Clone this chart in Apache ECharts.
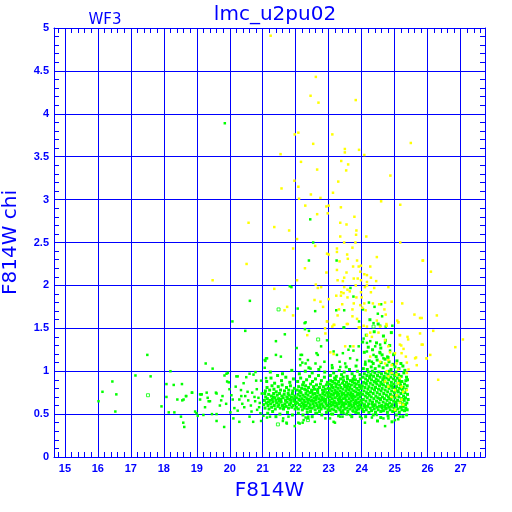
<!DOCTYPE html>
<html><head><meta charset="utf-8">
<script src="https://cdn.jsdelivr.net/npm/echarts@6/dist/echarts.min.js"></script>
<style>html,body{margin:0;padding:0;background:#fff}#c{width:512px;height:512px}</style>
</head><body><div id="c"></div>
<script>
const chartTitle = 'lmc_u2pu02';
const chipLabel = 'WF3';
const xName = 'F814W';
const yName = 'F814W chi';
const xRange = [14.67, 27.74];
const yRange = [0, 5];

const greenSparse = [
[16.02,0.65],[16.14,0.76],[16.44,0.88],[16.56,0.73],[16.53,0.53],[17.5,1.19],[17.14,0.95],[17.6,0.94],[17.93,0.59],
[18.08,0.85],[18.08,0.7],[18.15,0.52],[18.2,1.0],[18.3,0.84],[18.41,0.67],[18.32,0.52],[18.52,0.47],[18.59,0.4],
[18.62,0.35],[18.55,0.85],[18.6,0.67],[18.67,0.71],[18.86,0.75],[18.99,0.51],[19.15,0.73],[19.03,0.48],[19.2,0.49],
[19.25,0.58],[19.33,0.69],[19.4,0.65],[19.6,0.5],[19.6,0.42],[19.6,0.74],[19.85,3.89],[20.61,1.82],[20.08,1.58],
[20.47,1.47],[19.27,1.09],[19.48,1.03],[19.1,0.73],[19.3,0.75],[19.84,0.95],[19.9,0.97],[20.2,0.94],[20.5,0.93],
[20.6,0.97],[20.78,0.99],[21.06,1.13],[21.1,1.15],[21.06,1.04],[21.1,0.92],
[19.94,0.98],[19.97,0.87],[20.24,0.94],[20.72,0.96],[20.8,0.89],[20.95,0.89],[18.85,0.75],[18.68,0.71],[18.56,0.66],
[19.13,0.73],[19.36,0.65],[19.1,0.67],[19.58,0.75],[19.78,0.71],[19.74,0.66],[19.7,0.6],[19.89,0.62],[19.99,0.79],
[19.92,0.88],[20.09,0.67],[20.14,0.57],[20.34,0.78],[20.29,0.67],[20.47,0.71],[20.54,0.76],[20.44,0.58],[20.24,0.54],
[20.64,0.6],[20.77,0.65],[20.89,0.58],[20.87,0.69],[18.95,0.53],[19.46,0.5],[19.83,0.35],[20.11,0.45],[20.29,0.41],
[20.6,0.47],[20.95,0.42],[20.71,0.41],[20.05,0.72],[20.18,0.82],[20.38,0.62],[20.42,0.86],[20.56,0.66],[20.68,0.75],
[20.82,0.79],[20.91,0.63],[20.97,0.74],[20.02,0.52],[20.66,0.53],[20.83,0.55],[20.93,0.51],[20.35,0.71],[20.75,0.7]
];

const greenUpper = [
[22.44,2.77],[22.53,2.5],[22.4,2.29],[23.24,2.29],[21.87,1.98],[23.66,1.97],[23.75,1.87],[22.06,1.73],[22.59,1.7],
[23.23,1.71],[23.47,1.71],[23.92,1.58],[24.22,1.8],[24.39,1.75],[24.59,1.78],[24.49,1.67],[24.62,1.64],[24.36,1.56],
[24.56,1.53],[24.73,1.52],[24.93,1.53],[22.3,1.57],[23.47,1.51],[24.04,1.72],[21.82,1.99],[21.4,1.35],[22.28,1.49],
[21.67,1.43],[22.03,1.27],[22.27,1.56],[21.4,1.19],[21.55,1.17],[21.13,1.15],[21.08,1.12],[22.15,1.19],[22.13,1.14],
[22.2,1.1],[22.37,1.13],[22.4,1.47],[22.95,1.36],[22.77,1.29],[22.63,1.21],[22.67,1.19],[23.45,1.51],[23.94,1.51],
[24.06,1.38],[23.91,1.29],[23.65,1.29],[23.6,1.25],[23.75,1.24],[23.43,1.21],[23.25,1.19],[23.15,1.23],[23.33,1.11],
[24.16,1.33],[24.26,1.35],[24.16,1.23],[24.41,1.29],[24.56,1.31],[24.71,1.33],[24.86,1.24],[24.78,1.17],[24.96,1.19],
[24.56,1.21],[24.36,1.19],[24.66,1.15],[24.31,1.11],[24.11,1.11],[23.86,1.13],[23.65,1.15],[23.5,1.09],[23.35,1.05],
[23.1,1.07],[22.87,1.11],[22.75,1.05],[22.6,1.09],[22.45,1.03],[22.3,1.09],[22.19,1.19],[22.14,1.07]
];

const greenLower = [
[21.13,0.46],[21.61,0.42],[21.73,0.39],[21.97,0.36],[22.12,0.39],[22.24,0.43],[22.37,0.45],[21.78,0.47],[22.3,0.46],
[22.6,0.51],[22.9,0.45],[23.15,0.41],[23.35,0.47],[23.65,0.49],[23.75,0.53],[24.0,0.45],[24.1,0.4],[24.31,0.46],
[24.46,0.49],[24.66,0.45],[24.81,0.45],[25.01,0.43],[24.71,0.36],[25.16,0.47],[25.37,0.49],[23.45,0.51],[23.07,0.5],
[25.11,0.44],[23.95,0.47],[23.42,0.47],[23.19,0.4],[23.04,0.45],[22.58,0.41],[22.38,0.47],[22.21,0.4],[22.08,0.4],
[21.72,0.4],[21.62,0.45],[21.22,0.47],[21.02,0.48],[25.36,0.49]
];

const greenBand21 = [
[21.03,0.61],[21.07,0.57],[21.11,0.63],[21.16,0.6],[21.19,0.56],[21.24,0.62],[21.27,0.58],[21.31,0.64],[21.35,0.6],
[21.38,0.56],[21.42,0.63],[21.46,0.59],[21.49,0.61],[21.53,0.57],[21.56,0.64],[21.6,0.6],[21.63,0.56],[21.67,0.62],
[21.71,0.59],[21.74,0.64],[21.78,0.57],[21.81,0.61],[21.85,0.63],[21.88,0.58],[21.92,0.6],[21.95,0.65],[21.98,0.56],
[21.05,0.66],[21.09,0.7],[21.14,0.68],[21.18,0.73],[21.22,0.66],[21.26,0.71],[21.29,0.67],[21.33,0.74],[21.37,0.69],
[21.4,0.66],[21.44,0.72],[21.48,0.68],[21.51,0.74],[21.55,0.67],[21.58,0.71],[21.62,0.69],[21.65,0.73],[21.69,0.66],
[21.73,0.7],[21.76,0.68],[21.8,0.72],[21.83,0.67],[21.87,0.7],[21.9,0.74],[21.94,0.68],[21.97,0.71],[21.08,0.77],
[21.13,0.81],[21.21,0.78],[21.28,0.83],[21.34,0.79],[21.41,0.76],[21.47,0.82],[21.54,0.78],[21.59,0.84],[21.66,0.77],
[21.72,0.81],[21.79,0.78],[21.84,0.83],[21.91,0.77],[21.96,0.8],[21.12,0.88],[21.25,0.92],[21.36,0.86],[21.45,0.95],
[21.57,0.89],[21.7,0.93],[21.82,0.87],[21.93,0.91],[21.23,0.99],[21.6,0.97],[21.88,1.01],[21.15,0.51],[21.3,0.53],
[21.52,0.5],[21.75,0.52],[21.9,0.49],[21.4,0.47],[21.06,0.74],[21.17,0.64],[21.32,0.7],[21.5,0.65],[21.64,0.58],
[21.77,0.74],[21.86,0.66],[21.99,0.62]
];

const greenBand22 = [
[22.02,0.58],[22.05,0.63],[22.08,0.56],[22.11,0.61],[22.14,0.66],[22.17,0.59],[22.2,0.55],[22.23,0.62],[22.26,0.57],
[22.29,0.64],[22.32,0.6],[22.35,0.56],[22.38,0.63],[22.41,0.58],[22.44,0.61],[22.47,0.65],[22.5,0.57],[22.53,0.62],
[22.56,0.59],[22.59,0.55],[22.62,0.63],[22.65,0.6],[22.68,0.57],[22.71,0.64],[22.74,0.61],[22.77,0.56],[22.8,0.62],
[22.83,0.59],[22.86,0.65],[22.89,0.57],[22.92,0.62],[22.95,0.6],[22.98,0.55],[22.03,0.69],[22.07,0.73],[22.1,0.67],
[22.13,0.71],[22.16,0.75],[22.19,0.68],[22.22,0.72],[22.25,0.66],[22.28,0.7],[22.31,0.74],[22.34,0.68],[22.37,0.72],
[22.4,0.67],[22.43,0.75],[22.46,0.7],[22.49,0.66],[22.52,0.73],[22.55,0.69],[22.58,0.74],[22.61,0.67],[22.64,0.71],
[22.67,0.75],[22.7,0.68],[22.73,0.72],[22.76,0.66],[22.79,0.7],[22.82,0.74],[22.85,0.68],[22.88,0.72],[22.91,0.67],
[22.94,0.75],[22.97,0.7],[22.04,0.78],[22.09,0.82],[22.12,0.77],[22.18,0.8],[22.21,0.84],[22.27,0.79],[22.3,0.83],
[22.36,0.77],[22.39,0.81],[22.45,0.85],[22.48,0.78],[22.54,0.82],[22.57,0.79],[22.63,0.84],[22.66,0.77],[22.72,0.81],
[22.75,0.85],[22.81,0.78],[22.84,0.82],[22.9,0.79],[22.93,0.84],[22.99,0.8],[22.06,0.88],[22.15,0.92],[22.24,0.87],
[22.33,0.9],[22.42,0.94],[22.51,0.88],[22.6,0.91],[22.69,0.95],[22.78,0.89],[22.87,0.93],[22.96,0.87],[22.11,0.97],
[22.29,1.0],[22.5,0.98],[22.7,1.02],[22.88,0.99],[22.4,1.04],[22.08,0.51],[22.22,0.49],[22.35,0.52],[22.5,0.47],
[22.64,0.51],[22.79,0.49],[22.93,0.52],[22.45,0.53],[22.72,0.53],[22.01,0.64],[22.19,0.63],[22.37,0.66],[22.55,0.65],
[22.73,0.58],[22.91,0.64],[22.13,0.76],[22.31,0.78],[22.49,0.76],[22.67,0.79],[22.85,0.76],[22.26,0.6],[22.44,0.57],
[22.62,0.7],[22.8,0.67],[22.98,0.73]
];

const greenBand23 = [
[23.01,0.58],[23.04,0.54],[23.07,0.6],[23.1,0.56],[23.13,0.61],[23.16,0.55],[23.19,0.59],[23.22,0.53],[23.25,0.6],
[23.28,0.57],[23.31,0.62],[23.34,0.55],[23.37,0.58],[23.4,0.61],[23.43,0.54],[23.46,0.59],[23.49,0.56],[23.52,0.62],
[23.55,0.57],[23.58,0.53],[23.61,0.6],[23.64,0.56],[23.67,0.61],[23.7,0.58],[23.73,0.54],[23.76,0.6],[23.79,0.57],
[23.82,0.62],[23.85,0.55],[23.88,0.59],[23.91,0.56],[23.94,0.61],[23.97,0.58],[23.02,0.66],[23.05,0.7],[23.08,0.64],
[23.11,0.68],[23.14,0.72],[23.17,0.65],[23.2,0.69],[23.23,0.63],[23.26,0.71],[23.29,0.67],[23.32,0.64],[23.35,0.7],
[23.38,0.66],[23.41,0.72],[23.44,0.68],[23.47,0.63],[23.5,0.69],[23.53,0.66],[23.56,0.71],[23.59,0.64],[23.62,0.68],
[23.65,0.72],[23.68,0.65],[23.71,0.69],[23.74,0.67],[23.77,0.63],[23.8,0.7],[23.83,0.66],[23.86,0.72],[23.89,0.68],
[23.92,0.64],[23.95,0.7],[23.98,0.66],[23.01,0.75],[23.04,0.79],[23.07,0.73],[23.1,0.77],[23.13,0.81],[23.16,0.74],
[23.19,0.78],[23.22,0.82],[23.25,0.76],[23.28,0.8],[23.31,0.73],[23.34,0.77],[23.37,0.81],[23.4,0.75],[23.43,0.79],
[23.46,0.74],[23.49,0.82],[23.52,0.77],[23.55,0.8],[23.58,0.74],[23.61,0.78],[23.64,0.81],[23.67,0.75],[23.7,0.79],
[23.73,0.73],[23.76,0.77],[23.79,0.82],[23.82,0.76],[23.85,0.8],[23.88,0.74],[23.91,0.78],[23.94,0.82],[23.97,0.75],
[23.02,0.85],[23.06,0.89],[23.09,0.84],[23.12,0.88],[23.18,0.86],[23.21,0.9],[23.24,0.85],[23.3,0.88],[23.33,0.84],
[23.36,0.91],[23.42,0.86],[23.45,0.89],[23.48,0.84],[23.54,0.87],[23.57,0.91],[23.6,0.85],[23.66,0.89],[23.69,0.84],
[23.72,0.88],[23.78,0.86],[23.81,0.9],[23.84,0.85],[23.9,0.88],[23.93,0.84],[23.96,0.91],[23.05,0.95],[23.15,0.98],
[23.23,0.94],[23.32,1.01],[23.39,0.96],[23.47,0.99],[23.56,0.94],[23.63,1.02],[23.71,0.97],[23.78,0.94],[23.87,1.0],
[23.95,0.96],[23.11,1.04],[23.53,1.05],[23.83,1.06],[23.12,0.5],[23.3,0.48],[23.55,0.5],[23.7,0.47],[23.9,0.51],
[23.38,0.52],[23.82,0.52],[23.03,0.62],[23.15,0.63],[23.27,0.74],[23.39,0.64],[23.51,0.72],[23.63,0.63],[23.75,0.71],
[23.87,0.63],[23.99,0.8],[23.09,0.82],[23.21,0.75],[23.33,0.68],[23.45,0.61],[23.57,0.83],[23.69,0.71],[23.81,0.64],
[23.93,0.73],[23.18,0.92],[23.44,0.93],[23.74,0.91]
];

const greenBand24 = [
[24.02,0.56],[24.06,0.53],[24.1,0.58],[24.14,0.55],[24.18,0.59],[24.22,0.52],[24.26,0.57],[24.3,0.54],[24.34,0.59],
[24.38,0.56],[24.42,0.52],[24.46,0.58],[24.5,0.55],[24.54,0.59],[24.58,0.53],[24.62,0.57],[24.66,0.54],[24.7,0.59],
[24.74,0.56],[24.78,0.52],[24.82,0.58],[24.86,0.55],[24.9,0.59],[24.94,0.53],[24.98,0.57],[25.02,0.54],[25.06,0.59],
[25.1,0.56],[25.14,0.52],[25.18,0.58],[25.22,0.55],[25.26,0.59],[25.3,0.54],[25.34,0.57],[25.38,0.55],[24.01,0.63],
[24.05,0.67],[24.09,0.61],[24.13,0.65],[24.17,0.69],[24.21,0.62],[24.25,0.66],[24.29,0.7],[24.33,0.64],[24.37,0.68],
[24.41,0.61],[24.45,0.65],[24.49,0.69],[24.53,0.63],[24.57,0.67],[24.61,0.6],[24.65,0.64],[24.69,0.68],[24.73,0.62],
[24.77,0.66],[24.81,0.7],[24.85,0.63],[24.89,0.67],[24.93,0.61],[24.97,0.65],[25.01,0.69],[25.05,0.62],[25.09,0.66],
[25.13,0.7],[25.17,0.64],[25.21,0.68],[25.25,0.62],[25.29,0.66],[25.33,0.69],[25.37,0.63],[25.41,0.67],[24.03,0.73],
[24.07,0.77],[24.11,0.71],[24.15,0.75],[24.19,0.79],[24.23,0.72],[24.27,0.76],[24.31,0.8],[24.35,0.74],[24.39,0.78],
[24.43,0.71],[24.47,0.75],[24.51,0.79],[24.55,0.73],[24.59,0.77],[24.63,0.7],[24.67,0.74],[24.71,0.78],[24.75,0.72],
[24.79,0.76],[24.83,0.8],[24.87,0.73],[24.91,0.77],[24.95,0.71],[24.99,0.75],[25.03,0.79],[25.07,0.72],[25.11,0.76],
[25.15,0.8],[25.19,0.74],[25.23,0.78],[25.27,0.71],[25.31,0.75],[25.35,0.79],[25.39,0.73],[24.02,0.83],[24.06,0.87],
[24.1,0.81],[24.14,0.85],[24.18,0.89],[24.22,0.82],[24.26,0.86],[24.3,0.9],[24.34,0.84],[24.38,0.88],[24.42,0.81],
[24.46,0.85],[24.5,0.89],[24.54,0.83],[24.58,0.87],[24.62,0.8],[24.66,0.84],[24.7,0.88],[24.74,0.82],[24.78,0.86],
[24.82,0.9],[24.86,0.83],[24.9,0.87],[24.94,0.81],[24.98,0.85],[25.02,0.89],[25.06,0.82],[25.1,0.86],[25.14,0.9],
[25.18,0.84],[25.22,0.88],[25.26,0.81],[25.3,0.85],[25.34,0.89],[25.38,0.83],[24.04,0.93],[24.08,0.97],[24.12,0.91],
[24.16,0.95],[24.2,0.99],[24.24,0.92],[24.28,0.96],[24.32,1.0],[24.36,0.94],[24.4,0.98],[24.44,0.91],[24.48,0.95],
[24.52,0.99],[24.56,0.93],[24.6,0.97],[24.64,0.9],[24.68,0.94],[24.72,0.98],[24.76,0.92],[24.8,0.96],[24.84,1.0],
[24.88,0.93],[24.92,0.97],[24.96,0.91],[25.0,0.95],[25.04,0.99],[25.08,0.92],[25.12,0.96],[25.2,0.94],[25.28,0.98],
[25.36,0.93],[24.05,1.03],[24.11,1.08],[24.17,1.02],[24.23,1.12],[24.29,1.05],[24.35,1.09],[24.41,1.03],[24.47,1.13],
[24.53,1.06],[24.59,1.1],[24.65,1.04],[24.71,1.14],[24.77,1.07],[24.83,1.11],[24.89,1.02],[24.95,1.08],[25.01,1.05],
[25.07,1.12],[25.13,1.03],[25.19,1.09],[25.25,1.06],[25.31,1.01],[24.44,1.17],[24.62,1.19],[24.8,1.16],[24.98,1.2],
[24.08,1.22],[24.2,1.28],[24.33,1.25],[24.45,1.33],[24.58,1.27],[24.72,1.36],[24.85,1.3],[24.14,1.42],[24.38,1.46],
[24.66,1.41],[24.5,1.55],[24.25,1.6],[24.9,1.45],[24.03,1.34],[24.55,1.22],[24.12,0.47],[24.35,0.49],[24.58,0.46],
[24.8,0.48],[25.05,0.49],[25.25,0.47],[24.48,0.42],[24.92,0.41],[24.07,0.6],[24.19,0.74],[24.31,0.62],[24.43,0.87],
[24.55,0.68],[24.67,0.92],[24.79,0.61],[24.91,0.83],[25.03,0.64],[25.15,0.87],[25.27,0.67],[25.39,0.9],[24.13,0.86],
[24.37,0.6],[24.61,0.85],[24.85,0.68],[25.09,0.77],[25.33,0.61],[24.25,0.94],[24.73,0.57]
];

const greenHollow = [[17.52,0.72],[21.48,1.72],[22.68,1.37],[24.36,1.52],[22.37,0.43],[21.46,0.38]];

const yellowUpper = [
[21.24,4.91],[22.61,4.43],[22.45,4.21],[22.69,4.13],[23.82,4.16],[21.97,3.76],[22.08,3.78],[23.11,3.76],[22.53,3.65],
[21.54,3.53],[23.49,3.59],[23.49,3.55],[23.92,3.58],[24.08,3.52],[25.49,3.66],[22.16,3.44],[23.38,3.45],[23.59,3.41],
[22.65,3.35],[23.53,3.34],[24.87,3.28],[21.96,3.22],[23.29,3.21],[22.08,3.15],[21.57,3.13],[22.46,3.06],[23.13,3.08],
[22.75,3.02],[22.1,3.01],[22.29,2.93],[22.93,2.92],[23.0,2.93],[23.37,2.91],[24.59,2.98],[25.17,2.94],[22.65,2.83],
[22.97,2.84],[21.35,2.68],[21.8,2.64],[23.35,2.73],[23.54,2.71],[23.78,2.8],[23.84,2.64],[23.83,2.59],[23.35,2.57],
[24.14,2.57],[22.04,2.54],[22.59,2.46],[21.92,2.43],[23.47,2.5],[23.81,2.5],[25.17,2.5],[23.25,2.43],[23.72,2.44],
[23.25,2.39],[23.0,2.36],[23.56,2.36],[23.33,2.28],[23.58,2.31],[23.86,2.29],[24.46,2.33],[25.86,2.29],[23.74,2.22],
[23.91,2.22],[23.98,2.23],[24.26,2.22],[22.28,2.2],[22.93,2.15],[23.25,2.18],[23.54,2.15],[23.96,2.16],[24.08,2.13],
[24.16,2.12],[26.1,2.16],[22.04,2.06],[23.27,2.06],[23.43,2.05],[23.47,2.09],[23.76,2.08],[23.88,2.08],[23.98,2.06],
[24.16,2.04],[24.44,2.05],[24.28,2.09],[21.35,1.96],[22.61,2.01],[22.67,1.97],[22.77,1.98],[23.47,1.98],[23.57,1.95],
[23.82,2.0],[24.1,1.98],[24.16,2.0],[24.38,1.97],[24.81,1.98],[23.38,1.92],[23.45,1.91],[23.64,1.93],[23.98,1.92],
[24.28,1.92],[23.23,1.88],[23.37,1.88],[23.57,1.86],[23.84,1.86],[24.0,1.86],[22.57,1.83],[22.75,1.81],[23.0,1.84],
[23.41,1.78],[23.76,1.79],[23.96,1.77],[24.08,1.79],[24.34,1.79],[24.53,1.78],[25.23,1.79],[21.74,1.75],[21.66,1.71],
[22.83,1.75],[23.31,1.72],[23.72,1.72],[24.02,1.74],[24.12,1.71],[24.69,1.72],[21.92,1.65],[23.27,1.65],[23.72,1.64],
[24.73,1.66],[25.6,1.66],[25.82,1.62],[26.28,1.65],[22.95,1.58],[23.17,1.54],[23.58,1.55],[23.86,1.61],[23.94,1.51],
[24.16,1.52],[24.46,1.59],[24.75,1.55],[25.11,1.57],[22.89,1.5],[23.11,1.52],[20.57,2.73],[20.51,2.25],[19.48,2.06],
[25.85,2.29],[26.17,1.47],[26.32,0.9],[25.85,1.31],[25.65,1.16],[25.97,1.15],[25.77,1.62],[25.41,1.37],[25.16,1.42],
[25.2,1.3],[25.34,1.17],[24.91,1.81],[25.08,1.59],[24.71,1.8],[22.95,2.37],[27.07,1.37],[26.84,1.28],[26.08,1.19]
];

const yellowCore = [
[22.95,1.58],[23.15,1.54],[23.55,1.55],[23.91,1.51],[24.06,1.53],[24.26,1.45],[24.56,1.52],[24.76,1.53],[25.11,1.57],
[22.35,1.42],[22.9,1.44],[23.05,1.22],[23.15,1.2],[23.5,1.29],[23.75,1.29],[24.16,1.42],[24.31,1.4],[24.51,1.45],
[24.71,1.36],[24.81,1.29],[24.86,1.22],[25.01,1.21],[25.16,1.42],[25.39,1.4],[25.16,1.31],[25.27,1.26],[25.21,1.21],
[25.37,1.1],[25.62,1.15],[25.67,1.07],[25.82,1.31],[25.97,1.15],[25.77,1.44],[25.42,1.02],[24.26,1.17],[24.56,1.11],
[24.71,1.09],[24.81,1.13],[24.91,1.07],[25.06,1.09],[25.11,1.02],[25.06,0.96],[25.16,0.92],[25.11,0.86],[25.21,0.82],
[25.01,0.78],[25.26,0.76],[25.06,0.72],[25.21,0.67],[25.37,0.78],[24.91,0.98],[24.81,0.94],[24.76,1.0],[24.71,0.88],
[24.81,0.82],[24.91,0.7],[25.16,0.63],[25.26,0.61],[25.01,0.55],[25.37,0.98]
];

const BLUE = '#0000ff';
const GREEN = '#00ff00';
const YELLOW = '#ffff00';

function xAxisDef(pos, main) {
  return {
    type: 'value', position: pos, min: xRange[0], max: xRange[1], splitNumber: 13,
    name: main ? xName : '', nameLocation: 'middle', nameGap: 24,
    nameTextStyle: {color: BLUE, fontSize: 20, fontFamily: 'DejaVu Sans'},
    axisLine: {show: true, onZero: false, lineStyle: {color: BLUE, width: 1}},
    axisTick: {show: true, inside: true, length: 6, lineStyle: {color: BLUE, width: 1}},
    minorTick: {show: true, splitNumber: 5, length: 5, lineStyle: {color: BLUE, width: 1}},
    splitLine: {show: main, lineStyle: {color: BLUE, width: 1}},
    axisLabel: {show: main, margin: 6, color: BLUE, fontSize: 11, fontWeight: 'bold', fontFamily: 'Liberation Sans',
      formatter: v => (Math.abs(v - Math.round(v)) < 1e-6 ? String(Math.round(v)) : '')}
  };
}
function yAxisDef(pos, main) {
  return {
    type: 'value', position: pos, min: yRange[0], max: yRange[1], interval: 0.5,
    name: main ? yName : '', nameLocation: 'middle', nameGap: 33,
    nameTextStyle: {color: BLUE, fontSize: 20, fontFamily: 'DejaVu Sans'},
    axisLine: {show: true, onZero: false, lineStyle: {color: BLUE, width: 1}},
    axisTick: {show: true, inside: true, length: 6, lineStyle: {color: BLUE, width: 1}},
    minorTick: {show: true, splitNumber: 5, length: 5, lineStyle: {color: BLUE, width: 1}},
    splitLine: {show: main, lineStyle: {color: BLUE, width: 1}},
    axisLabel: {show: main, margin: 5, color: BLUE, fontSize: 11, fontWeight: 'bold', fontFamily: 'Liberation Sans'}
  };
}
function sc(data, color, size) {
  return {type: 'scatter', data: data, symbol: 'rect', symbolSize: size, silent: true,
    itemStyle: {color: color, opacity: 1}, emphasis: {disabled: true}};
}

const chart = echarts.init(document.getElementById('c'));
chart.setOption({
  animation: false,
  backgroundColor: '#ffffff',
  title: [
    {text: chartTitle, left: 270, top: 0, textAlign: 'center',
      textStyle: {color: BLUE, fontSize: 20, fontWeight: 'normal', fontFamily: 'DejaVu Sans'}},
    {text: chipLabel, left: 100, top: 8, textAlign: 'center',
      textStyle: {color: BLUE, fontSize: 15, fontWeight: 'normal', fontFamily: 'DejaVu Sans'}}
  ],
  grid: {left: 54, right: 27, top: 28, bottom: 55, containLabel: false, outerBoundsMode: 'none'},
  xAxis: [xAxisDef('bottom', true), xAxisDef('top', false)],
  yAxis: [yAxisDef('left', true), yAxisDef('right', false)],
  series: [
    sc(greenBand21, GREEN, 3), sc(greenBand22, GREEN, 3), sc(greenBand23, GREEN, 3), sc(greenBand24, GREEN, 3),
    sc(greenSparse, GREEN, 2.5), sc(greenUpper, GREEN, 2.5), sc(greenLower, GREEN, 2.5),
    sc(yellowUpper, YELLOW, 2.5), sc(yellowCore, YELLOW, 2.5),
    {type: 'scatter', data: greenHollow, symbol: 'rect', symbolSize: 3, silent: true,
      itemStyle: {color: 'rgba(0,0,0,0)', borderColor: GREEN, borderWidth: 1}}
  ]
});
</script></body></html>
